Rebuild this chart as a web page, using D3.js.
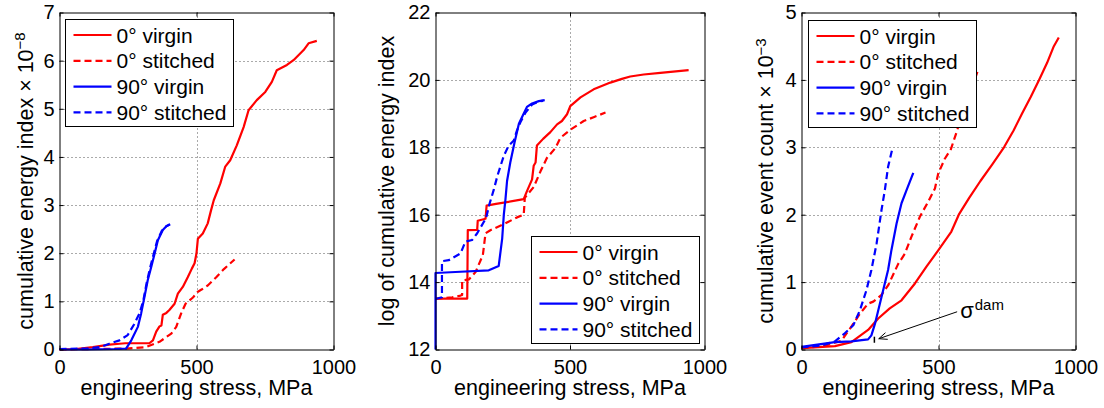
<!DOCTYPE html>
<html>
<head>
<meta charset="utf-8">
<script src="https://cdn.jsdelivr.net/npm/d3@7"></script>
<style>
  body { margin: 0; background: #fff; }
  text { font-family: "Liberation Sans", Arial, Helvetica, sans-serif; fill: #000; }
</style>
</head>
<body>
<div id="chart"></div>
<script>
//////////
// DATA //
//////////

var stressTicks = [0, 500, 1000];
var seriesNames = ["0\u00b0 virgin", "0\u00b0 stitched", "90\u00b0 virgin", "90\u00b0 stitched"];

// panel 1 : cumulative energy index x 1e-8  ([stress MPa, value])
var energy_0virgin = [[0,0],[60,0.01],[122,0.05],[182,0.1],[219,0.12],[240,0.13],[328,0.13],[341,0.19],[353,0.37],[365,0.48],[372,0.5],[377,0.72],[390,0.76],[401,0.82],[420,0.95],[432,1.16],[450,1.3],[468,1.5],[483,1.68],[493,1.79],[500,2.0],[505,2.3],[523,2.41],[541,2.62],[553,2.89],[563,3.1],[587,3.45],[605,3.8],[623,3.93],[647,4.24],[672,4.62],[690,4.97],[720,5.18],[751,5.35],[775,5.56],[793,5.8],[830,5.91],[854,6.01],[891,6.22],[909,6.36],[939,6.41]];
var energy_0stitched = [[0,0],[120,0.01],[243,0.02],[316,0.05],[365,0.16],[408,0.33],[426,0.47],[444,0.75],[460,0.95],[470,1.0],[487,1.08],[505,1.2],[520,1.25],[541,1.33],[572,1.5],[600,1.67],[639,1.87]];
var energy_90virgin = [[0,0],[100,0.0],[200,0.01],[243,0.02],[262,0.19],[286,0.47],[298,0.75],[310,1.09],[322,1.44],[335,1.72],[347,1.99],[359,2.27],[377,2.48],[390,2.56],[404,2.6]];
var energy_90stitched = [[0,0.01],[100,0.02],[150,0.05],[182,0.12],[219,0.19],[249,0.3],[272,0.52],[292,0.75],[306,1.02],[318,1.38],[330,1.68],[343,1.97],[356,2.25],[374,2.47],[390,2.56],[402,2.6]];
var energyTicks = [0, 1, 2, 3, 4, 5, 6, 7];

// panel 2 : log of cumulative energy index
var logEnergy_0virgin = [[0,13.51],[118,13.51],[120,15.54],[155,15.55],[157,15.82],[186,15.88],[190,16.27],[225,16.32],[328,16.46],[340,16.7],[359,17.05],[365,17.45],[372,17.55],[377,18.05],[400,18.25],[427,18.45],[452,18.68],[470,18.78],[489,18.98],[501,19.22],[539,19.48],[588,19.72],[650,19.92],[693,20.03],[724,20.1],[774,20.16],[836,20.21],[941,20.29]];
var logEnergy_0stitched = [[0,13.5],[62,13.55],[93,13.6],[99,13.62],[99,14.05],[124,14.08],[149,14.3],[176,14.8],[186,15.45],[204,15.54],[254,15.72],[303,15.92],[328,16.0],[332,16.5],[365,16.82],[390,17.28],[414,17.68],[446,17.98],[464,18.28],[501,18.52],[551,18.78],[590,18.9],[632,19.03]];
var logEnergy_90virgin = [[0,12],[0,14.27],[74,14.3],[198,14.35],[235,14.48],[248,15.3],[254,16.0],[260,16.45],[266,17.0],[278,17.55],[294,18.15],[310,18.7],[325,18.95],[340,19.2],[359,19.3],[384,19.37],[406,19.4]];
var logEnergy_90stitched = [[0,13.5],[24,13.55],[24,14.62],[49,14.65],[93,14.85],[111,15.2],[136,15.25],[155,15.45],[188,15.9],[200,16.3],[217,16.75],[230,17.15],[254,17.75],[272,18.05],[291,18.2],[303,18.5],[316,18.75],[334,19.02],[359,19.27],[384,19.36],[400,19.38]];
var logEnergyTicks = [12, 14, 16, 18, 20, 22];

// panel 3 : cumulative event count x 1e-3
var events_0virgin = [[0,0.02],[122,0.05],[182,0.11],[243,0.29],[280,0.46],[322,0.61],[365,0.73],[414,0.98],[456,1.23],[499,1.47],[547,1.75],[574,2.0],[612,2.25],[653,2.5],[697,2.75],[739,3.0],[774,3.25],[805,3.5],[837,3.75],[867,4.0],[896,4.25],[921,4.5],[939,4.63]];
var events_0stitched = [[0,0.02],[80,0.05],[146,0.13],[182,0.34],[213,0.53],[243,0.68],[262,0.71],[292,0.81],[316,0.95],[353,1.27],[377,1.42],[401,1.67],[432,1.97],[462,2.19],[487,2.39],[499,2.61],[523,2.83],[545,2.97],[568,3.25],[586,3.5],[610,3.75],[630,3.98],[642,4.12]];
var events_90virgin = [[0,0.04],[122,0.11],[182,0.12],[243,0.15],[255,0.21],[268,0.38],[286,0.68],[304,0.98],[316,1.18],[328,1.47],[347,1.87],[365,2.17],[383,2.36],[408,2.62]];
var events_90stitched = [[0,0.03],[73,0.06],[122,0.12],[158,0.24],[189,0.36],[213,0.58],[237,0.88],[255,1.18],[274,1.57],[292,2.07],[304,2.36],[316,2.71],[331,2.97]];
var eventTicks = [0, 1, 2, 3, 4, 5];

// sigma_dam annotation (stress, count)
var damArrowFrom = [568, 0.56], damArrowTo = [282, 0.16];
var damMark = [266, 0.10, 0.19];

/////////////
// STYLING //
/////////////

var seriesColors = ["#ff0000", "#ff0000", "#0000ff", "#0000ff"];
var seriesDash = [null, "7,4", null, "7,4"];

var svgWidth = 1104, svgHeight = 408;

var svg = d3.select("#chart").append("svg")
  .attr("width", svgWidth)
  .attr("height", svgHeight)
  .style("display", "block");

svg.append("rect").attr("width", svgWidth).attr("height", svgHeight).attr("fill", "#fff");

var panels = [
  { left: 59.5, right: 333.5, yDomain: [0, 7], yTicks: energyTicks,
    data: [energy_0virgin, energy_0stitched, energy_90virgin, energy_90stitched],
    ylabel: "cumulative energy index \u00d7 10", ysup: "\u22128", ylabelX: 32.5,
    legend: { x: 65.5, y: 19.5 } },
  { left: 435.5, right: 704.5, yDomain: [12, 22], yTicks: logEnergyTicks,
    data: [logEnergy_0virgin, logEnergy_0stitched, logEnergy_90virgin, logEnergy_90stitched],
    ylabel: "log of cumulative energy index", ysup: null, ylabelX: 394,
    legend: { x: 531.5, y: 236.5 } },
  { left: 801.5, right: 1075.5, yDomain: [0, 5], yTicks: eventTicks,
    data: [events_0virgin, events_0stitched, events_90virgin, events_90stitched],
    ylabel: "cumulative event count \u00d7 10", ysup: "\u22123", ylabelX: 773,
    legend: { x: 808.5, y: 20.5 } }
];

var plotTop = 12.5, plotBottom = 349.5;

panels.forEach(function(p, pi) {
  var g = svg.append("g");

  var x = d3.scaleLinear().domain([0, 1000]).range([p.left, p.right]);
  var y = d3.scaleLinear().domain(p.yDomain).range([plotBottom, plotTop]);

  // dotted grid (inner ticks only)
  g.selectAll(".gridx").data(stressTicks.slice(1, -1)).enter().append("line")
    .attr("x1", function(d) { return Math.round(x(d)) + 0.5; })
    .attr("x2", function(d) { return Math.round(x(d)) + 0.5; })
    .attr("y1", plotTop).attr("y2", plotBottom)
    .attr("stroke", "#555").attr("stroke-width", 1).attr("stroke-dasharray", "1,3");
  g.selectAll(".gridy").data(p.yTicks.slice(1, -1)).enter().append("line")
    .attr("y1", function(d) { return Math.round(y(d)) + 0.5; })
    .attr("y2", function(d) { return Math.round(y(d)) + 0.5; })
    .attr("x1", p.left).attr("x2", p.right)
    .attr("stroke", "#555").attr("stroke-width", 1).attr("stroke-dasharray", "1,3");

  // curves
  var line = d3.line()
    .x(function(d) { return x(d[0]); })
    .y(function(d) { return y(d[1]); });

  p.data.forEach(function(series, i) {
    g.append("path")
      .datum(series)
      .attr("d", line)
      .attr("fill", "none")
      .attr("stroke", seriesColors[i])
      .attr("stroke-width", 2.2)
      .attr("stroke-linejoin", "round")
      .attr("stroke-dasharray", seriesDash[i]);
  });

  // axes, MATLAB style: ticks inward on all four sides
  var fmt = d3.format("d");
  var xAxisB = d3.axisBottom(x).tickValues(stressTicks).tickFormat(fmt).tickSizeInner(-4).tickSizeOuter(0).tickPadding(10.5);
  var xAxisT = d3.axisTop(x).tickValues(stressTicks).tickSizeInner(-4).tickSizeOuter(0).tickFormat("");
  var yAxisL = d3.axisLeft(y).tickValues(p.yTicks).tickFormat(fmt).tickSizeInner(-4).tickSizeOuter(0).tickPadding(5);
  var yAxisR = d3.axisRight(y).tickValues(p.yTicks).tickSizeInner(-4).tickSizeOuter(0).tickFormat("");

  [[xAxisB, "translate(0," + plotBottom + ")"], [xAxisT, "translate(0," + plotTop + ")"],
   [yAxisL, "translate(" + p.left + ",0)"], [yAxisR, "translate(" + p.right + ",0)"]].forEach(function(a) {
    var ag = g.append("g").attr("transform", a[1]).call(a[0]);
    ag.selectAll("path, line").attr("stroke", "#000").attr("stroke-width", 1);
    ag.selectAll("text").style("font-size", "20px").attr("fill", "#000")
      .style("font-family", '"Liberation Sans", Arial, sans-serif');
  });

  // x label
  g.append("text")
    .attr("x", (p.left + p.right) / 2)
    .attr("y", 395)
    .attr("text-anchor", "middle")
    .style("font-size", "21.5px")
    .text("engineering stress, MPa");

  // y label
  var yl = g.append("text")
    .attr("transform", "translate(" + p.ylabelX + "," + ((plotTop + plotBottom) / 2) + ") rotate(-90)")
    .attr("text-anchor", "middle")
    .style("font-size", "21.5px");
  yl.append("tspan").text(p.ylabel);
  if (p.ysup) {
    yl.append("tspan").attr("dy", "-0.5em").style("font-size", "15px").text(p.ysup);
  }

  // legend
  var lg = g.append("g").attr("transform", "translate(" + p.legend.x + "," + p.legend.y + ")");
  lg.append("rect").attr("width", 168).attr("height", 107)
    .attr("fill", "#fff").attr("stroke", "#000").attr("stroke-width", 1);
  seriesNames.forEach(function(name, i) {
    var ry = 15.5 + i * 25.8;
    lg.append("line")
      .attr("x1", 8).attr("x2", 46).attr("y1", ry).attr("y2", ry)
      .attr("stroke", seriesColors[i]).attr("stroke-width", 2.2)
      .attr("stroke-dasharray", seriesDash[i]);
    lg.append("text")
      .attr("x", 51).attr("y", ry + 7.5)
      .style("font-size", "21px")
      .text(name);
  });

  // sigma_dam annotation on the event count panel
  if (pi === 2) {
    var x0 = x(damArrowFrom[0]), y0 = y(damArrowFrom[1]);
    var x1 = x(damArrowTo[0]), y1 = y(damArrowTo[1]);
    g.append("line").attr("x1", x0).attr("y1", y0).attr("x2", x1).attr("y2", y1)
      .attr("stroke", "#000").attr("stroke-width", 1);
    var ang = Math.atan2(y0 - y1, x0 - x1), len = 9, spread = 0.4;
    [-spread, spread].forEach(function(s) {
      g.append("line")
        .attr("x1", x1).attr("y1", y1)
        .attr("x2", x1 + len * Math.cos(ang + s))
        .attr("y2", y1 + len * Math.sin(ang + s))
        .attr("stroke", "#000").attr("stroke-width", 1);
    });
    g.append("line")
      .attr("x1", x(damMark[0])).attr("x2", x(damMark[0]))
      .attr("y1", y(damMark[1])).attr("y2", y(damMark[2]))
      .attr("stroke", "#000").attr("stroke-width", 1.5);
    var st = g.append("text")
      .attr("x", x0 + 3).attr("y", y0 + 6.5)
      .style("font-size", "22px");
    st.append("tspan").text("\u03c3");
    st.append("tspan").attr("dy", "-0.55em").attr("dx", "1").style("font-size", "15px").text("dam");
  }
});
</script>
</body>
</html>
